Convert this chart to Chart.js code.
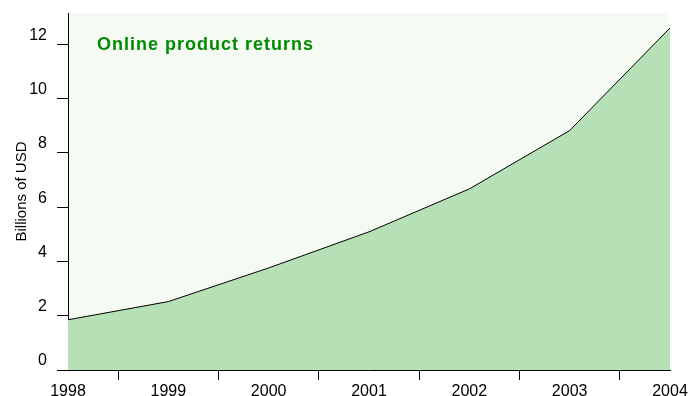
<!DOCTYPE html>
<html>
<head>
<meta charset="utf-8">
<script src="https://cdn.jsdelivr.net/npm/chart.js@4/dist/chart.umd.min.js"></script>
<style>
  html, body { margin: 0; padding: 0; background: #fff; }
  #wrap { width: 690px; height: 396px; }
</style>
</head>
<body>
<div id="wrap"><canvas id="returnsChart"></canvas></div>
<script>
var years = ['1998', '1999', '2000', '2001', '2002', '2003', '2004'];
var returns = [1.85, 2.52, 3.76, 5.09, 6.67, 8.82, 12.6];
var yTicks = [0, 2, 4, 6, 8, 10, 12];
var titleText = 'Online product returns';
var yLabel = 'Billions of USD';

(function () {
  var font = 'Liberation Sans, Arial, sans-serif';

  // plot background + in-plot title
  var plotDecor = {
    id: 'plotDecor',
    beforeDraw: function (chart) {
      var a = chart.chartArea;
      var c = chart.ctx;
      c.save();
      c.fillStyle = '#f5fbf3';
      c.fillRect(a.left, a.top, a.right - a.left - 2, a.bottom - a.top);
      c.restore();
    },
    afterDatasetsDraw: function (chart) {
      var a = chart.chartArea;
      var c = chart.ctx;
      c.save();
      c.font = 'bold 18px ' + font;
      c.fillStyle = '#008a00';
      c.textBaseline = 'alphabetic';
      c.textAlign = 'left';
      if ('letterSpacing' in c) c.letterSpacing = '1px';
      c.fillText(titleText, a.left + 29, a.top + 37);
      c.restore();
    }
  };

  var ctx = document.getElementById('returnsChart');
  new Chart(ctx.getContext('2d'), {
    type: 'line',
    data: {
      labels: years,
      datasets: [{
        data: returns,
        fill: 'origin',
        tension: 0,
        borderWidth: 1,
        borderColor: '#000',
        backgroundColor: '#b6e0b6',
        pointRadius: 0
      }]
    },
    plugins: [plotDecor],
    options: {
      responsive: true,
      maintainAspectRatio: false,
      animation: false,
      layout: { padding: { left: 0, right: 20, top: 13, bottom: 0 } },
      plugins: {
        legend: { display: false },
        tooltip: { enabled: false }
      },
      scales: {
        x: {
          offset: false,
          border: { display: true, color: '#000', width: 1 },
          grid: {
            offset: true,
            drawOnChartArea: false,
            drawTicks: true,
            tickLength: 10,
            color: '#000'
          },
          ticks: {
            color: '#000',
            font: { family: font, size: 16 },
            padding: 2,
            maxRotation: 0,
            autoSkip: false
          },
          afterFit: function (s) {
            s.height = 26;
            s.paddingLeft = 0;
            s.paddingRight = 0;
          }
        },
        y: {
          min: 0,
          max: 13.15,
          border: { display: true, color: '#000', width: 1 },
          grid: {
            drawOnChartArea: false,
            drawTicks: true,
            tickLength: 11,
            color: '#000'
          },
          ticks: {
            color: '#000',
            font: { family: font, size: 16 },
            padding: 10,
            labelOffset: -9
          },
          afterBuildTicks: function (s) {
            s.ticks = yTicks.map(function (v) { return { value: v }; });
          },
          title: {
            display: true,
            text: yLabel,
            color: '#000',
            font: { family: font, size: 15 },
            padding: { top: 13, bottom: 0 }
          },
          afterFit: function (s) {
            s.width = 68;
            s.paddingTop = 0;
            s.paddingBottom = 0;
          }
        }
      }
    }
  });
})();
</script>
</body>
</html>
